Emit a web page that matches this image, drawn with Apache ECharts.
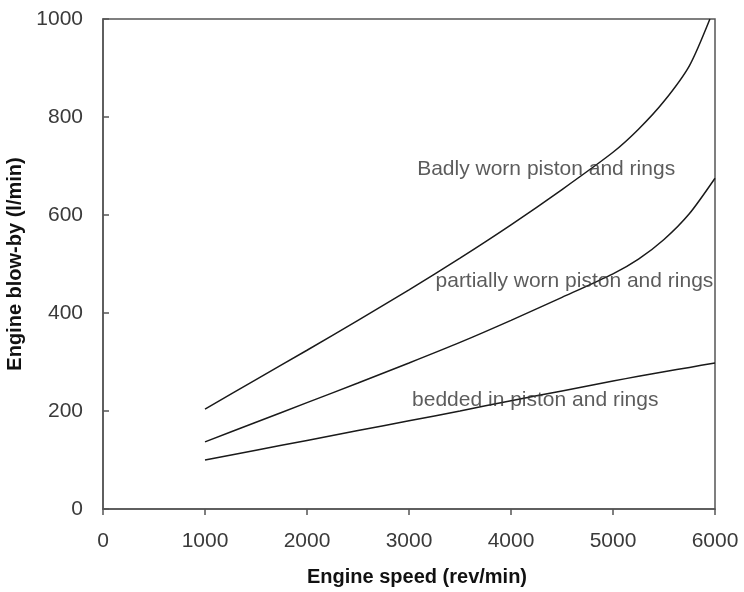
<!DOCTYPE html>
<html lang="en">
<head>
    <meta charset="UTF-8">
    <title>Engine blow-by</title>
    <script src="https://cdn.jsdelivr.net/npm/echarts@6/dist/echarts.min.js"></script>
    <style>
        body { margin: 0; background: #fff; }
        #chart { width: 744px; height: 592px; }
    </style>
</head>
<body>
<div id="chart"></div>
<script type="text/javascript">
    // engine speed (rev/min) and blow-by (l/min)
    var speed = [1000, 1500, 2000, 2500, 3000, 3500, 4000, 4500, 5000, 5250, 5500, 5750, 5950];
    var badly = [204, 264, 324, 385, 447, 512, 580, 652, 728, 775, 832, 905, 1000];
    var speedP = [1000, 1500, 2000, 2500, 3000, 3500, 4000, 4500, 5000, 5250, 5500, 5750, 6000];
    var partially = [137, 177, 217, 257, 298, 340, 385, 432, 480, 510, 550, 603, 675];
    var bedded = [100, 120, 140, 160, 180, 200, 221, 241, 261, 271, 280, 289, 298];

    var xTicks = [0, 1000, 2000, 3000, 4000, 5000, 6000];
    var yTicks = [0, 200, 400, 600, 800, 1000];

    // text annotations: [speed, blow-by, text]
    var notes = [
        [3080, 694, 'Badly worn piston and rings'],
        [3260, 465, 'partially worn piston and rings'],
        [3030, 222, 'bedded in piston and rings']
    ];

    function pairs(xs, ys) {
        var out = [];
        for (var i = 0; i < xs.length; i++) out.push([xs[i], ys[i]]);
        return out;
    }

    var lineStyle = {color: '#1a1a1a', width: 1.5};
    var font = 'Liberation Sans, Arial, sans-serif';

    var myChart = echarts.init(document.getElementById('chart'));
    var option = {
        animation: false,
        textStyle: {fontFamily: font},
        grid: {
            left: 103, right: 29, top: 19, bottom: 83,
            outerBoundsMode: 'none', containLabel: false,
            show: true, borderColor: '#555', borderWidth: 1.5
        },
        xAxis: {
            type: 'value',
            min: xTicks[0], max: xTicks[xTicks.length - 1], interval: 1000,
            name: 'Engine speed (rev/min)',
            nameLocation: 'middle', nameGap: 58,
            nameTextStyle: {fontSize: 20, fontWeight: 'bold', color: '#111', padding: [0, 0, 0, 16]},
            axisLine: {show: true, lineStyle: {color: '#555', width: 1.5}},
            axisTick: {show: true, inside: false, length: 6, lineStyle: {color: '#555', width: 1.5}},
            axisLabel: {fontSize: 21, color: '#3a3a3a', margin: 22, formatter: function (v) { return String(v); }},
            splitLine: {show: false}
        },
        yAxis: {
            type: 'value',
            min: yTicks[0], max: yTicks[yTicks.length - 1], interval: 200,
            name: 'Engine blow-by (l/min)',
            nameLocation: 'middle', nameGap: 62,
            nameTextStyle: {fontSize: 20, fontWeight: 'bold', color: '#111'},
            axisLine: {show: true, lineStyle: {color: '#555', width: 1.5}},
            axisTick: {show: true, inside: true, length: 6, lineStyle: {color: '#555', width: 1.5}},
            axisLabel: {fontSize: 21, color: '#3a3a3a', margin: 20, formatter: function (v) { return String(v); }},
            splitLine: {show: false}
        },
        series: [
            {type: 'line', data: pairs(speed, badly), smooth: 0.25, symbol: 'none', lineStyle: lineStyle},
            {type: 'line', data: pairs(speedP, partially), smooth: 0.25, symbol: 'none', lineStyle: lineStyle},
            {type: 'line', data: pairs(speedP, bedded), smooth: 0.25, symbol: 'none', lineStyle: lineStyle},
            {
                type: 'scatter', symbolSize: 0, z: 5,
                data: notes.map(function (n) { return {value: [n[0], n[1]], name: n[2]}; }),
                label: {
                    show: true, position: 'right', distance: 0,
                    formatter: function (p) { return p.name; },
                    fontSize: 21, color: '#333'
                }
            }
        ]
    };
    myChart.setOption(option);
</script>
</body>
</html>
